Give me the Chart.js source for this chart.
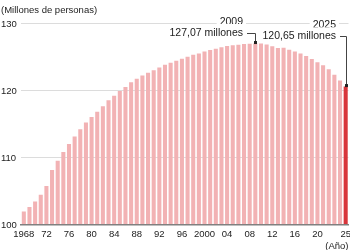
<!DOCTYPE html>
<html>
<head>
<meta charset="utf-8">
<script src="https://cdn.jsdelivr.net/npm/chart.js@4/dist/chart.umd.min.js"></script>
<style>
  html, body { margin: 0; padding: 0; background: #fff; }
</style>
</head>
<body>
<canvas id="popChart" width="350" height="250"></canvas>
<script>
// Años (categorías)
const years = [
  '1968', '1969', '1970', '1971', '1972', '1973', '1974', '1975', '1976', '1977',
  '1978', '1979', '1980', '1981', '1982', '1983', '1984', '1985', '1986', '1987',
  '1988', '1989', '1990', '1991', '1992', '1993', '1994', '1995', '1996', '1997',
  '1998', '1999', '2000', '2001', '2002', '2003', '2004', '2005', '2006', '2007',
  '2008', '2009', '2010', '2011', '2012', '2013', '2014', '2015', '2016', '2017',
  '2018', '2019', '2020', '2021', '2022', '2023', '2024', '2025'
];

// Población (millones de personas)
const population = [
  102.0, 102.7, 103.5, 104.5, 105.8, 108.2, 109.6, 110.9, 112.1, 113.2,
  114.3, 115.3, 116.1, 116.9, 117.7, 118.6, 119.3, 120.0, 120.6, 121.3,
  121.8, 122.3, 122.7, 123.1, 123.5, 123.9, 124.2, 124.5, 124.8, 125.1,
  125.4, 125.6, 125.9, 126.1, 126.3, 126.5, 126.7, 126.8, 126.9, 127.0,
  127.05, 127.07, 127.06, 126.92, 126.66, 126.39, 126.43, 126.16, 125.89, 125.58,
  125.21, 124.78, 124.27, 123.84, 123.22, 122.42, 121.56, 120.65
];

// Etiquetas del eje X
const tickYears = ['1968', '1972', '1976', '1980', '1984', '1988', '1992', '1996', '2000',
  '2004', '2008', '2012', '2016', '2020', '2025'];
const tickText = ['1968', '72', '76', '80', '84', '88', '92', '96', '2000',
  '04', '08', '12', '16', '20', '25'];

// Eje Y
const yTicks = [100, 110, 120, 130];

// Anotaciones
const calloutYears = ['2009', '2025'];
const calloutLines = [['2009', '127,07 millones'], ['2025', '120,65 millones']];

const FONT = '"Liberation Sans", Arial, Helvetica, sans-serif';
const PINK = '#f2b2b4';
const RED = '#d8353b';
const TEXT = '#222';

Chart.defaults.font.family = FONT;

// Dibuja los textos con línea de guía hasta la barra
const calloutPlugin = {
  id: 'callouts',
  afterDraw(chart) {
    const { ctx } = chart;
    const xs = chart.scales.x;
    const ys = chart.scales.y;
    // posición del bloque de texto: borde derecho y centro de la primera línea
    const place = [
      { right: 243, top: 22 },
      { right: 336, top: 25.3 }
    ];
    ctx.save();
    ctx.font = '10.5px ' + FONT;
    ctx.textAlign = 'right';
    ctx.textBaseline = 'middle';

    calloutYears.forEach((yr, k) => {
      const idx = years.indexOf(yr);
      const bx = Math.round(xs.getPixelForValue(idx)) + 0.5;
      const by = ys.getPixelForValue(population[idx]);
      const p = place[k];
      const lines = calloutLines[k];

      lines.forEach((t, j) => {
        const cy = p.top + j * 11;
        const w = ctx.measureText(t).width;
        ctx.fillStyle = '#fff';
        ctx.fillRect(p.right - w - 3, cy - 9, w + 6, 14);
        ctx.fillStyle = TEXT;
        ctx.fillText(t, p.right, cy);
      });

      const ly = Math.round(p.top + 11) + 0.5;
      ctx.strokeStyle = '#444';
      ctx.lineWidth = 1;
      ctx.beginPath();
      ctx.moveTo(p.right + 4, ly);
      ctx.lineTo(bx, ly);
      ctx.lineTo(bx, by - 1);
      ctx.stroke();

      ctx.fillStyle = '#222';
      ctx.fillRect(bx - 1.5, by - 2.5, 3, 3);
    });
    ctx.restore();
  }
};

new Chart(document.getElementById('popChart'), {
  type: 'bar',
  data: {
    labels: years,
    datasets: [{
      data: population,
      backgroundColor: years.map(y => y === '2025' ? RED : PINK),
      borderWidth: 0,
      barPercentage: 0.72,
      categoryPercentage: 1.0
    }]
  },
  options: {
    responsive: false,
    animation: false,
    devicePixelRatio: 1,
    layout: { padding: { left: 1, right: 1.5, top: 0, bottom: 0 } },
    plugins: {
      legend: { display: false },
      tooltip: { enabled: false },
      title: {
        display: true,
        text: '(Millones de personas)',
        align: 'start',
        color: TEXT,
        font: { size: 9.5, weight: 'normal' },
        padding: { top: 5, bottom: 7.5 }
      }
    },
    scales: {
      x: {
        grid: { display: false, drawTicks: false },
        border: { display: true, color: '#808080', width: 1.5, z: 1 },
        ticks: {
          autoSkip: false,
          maxRotation: 0,
          color: TEXT,
          font: { size: 9.5 },
          padding: 4,
          callback: (v, i) => {
            const k = tickYears.indexOf(years[i]);
            return k >= 0 ? tickText[k] : '';
          }
        },
        title: {
          display: true,
          text: '(Año)',
          align: 'end',
          color: TEXT,
          font: { size: 9.5 },
          padding: { top: 0, bottom: -2 }
        },
        afterFit: s => { s.height = 25; s.paddingLeft = 0; s.paddingRight = 0; }
      },
      y: {
        min: 100,
        max: 130,
        afterBuildTicks: s => { s.ticks = yTicks.map(v => ({ value: v })); },
        grid: {
          color: c => c.tick && c.tick.value === 100 ? 'rgba(0,0,0,0)' : '#dcdcdc',
          lineWidth: 1,
          drawTicks: false
        },
        border: { display: false },
        ticks: {
          color: TEXT,
          font: { size: 9.5 },
          crossAlign: 'far',
          padding: 4
        },
        afterFit: s => { s.width = 20; }
      }
    }
  },
  plugins: [calloutPlugin]
});
</script>
</body>
</html>
